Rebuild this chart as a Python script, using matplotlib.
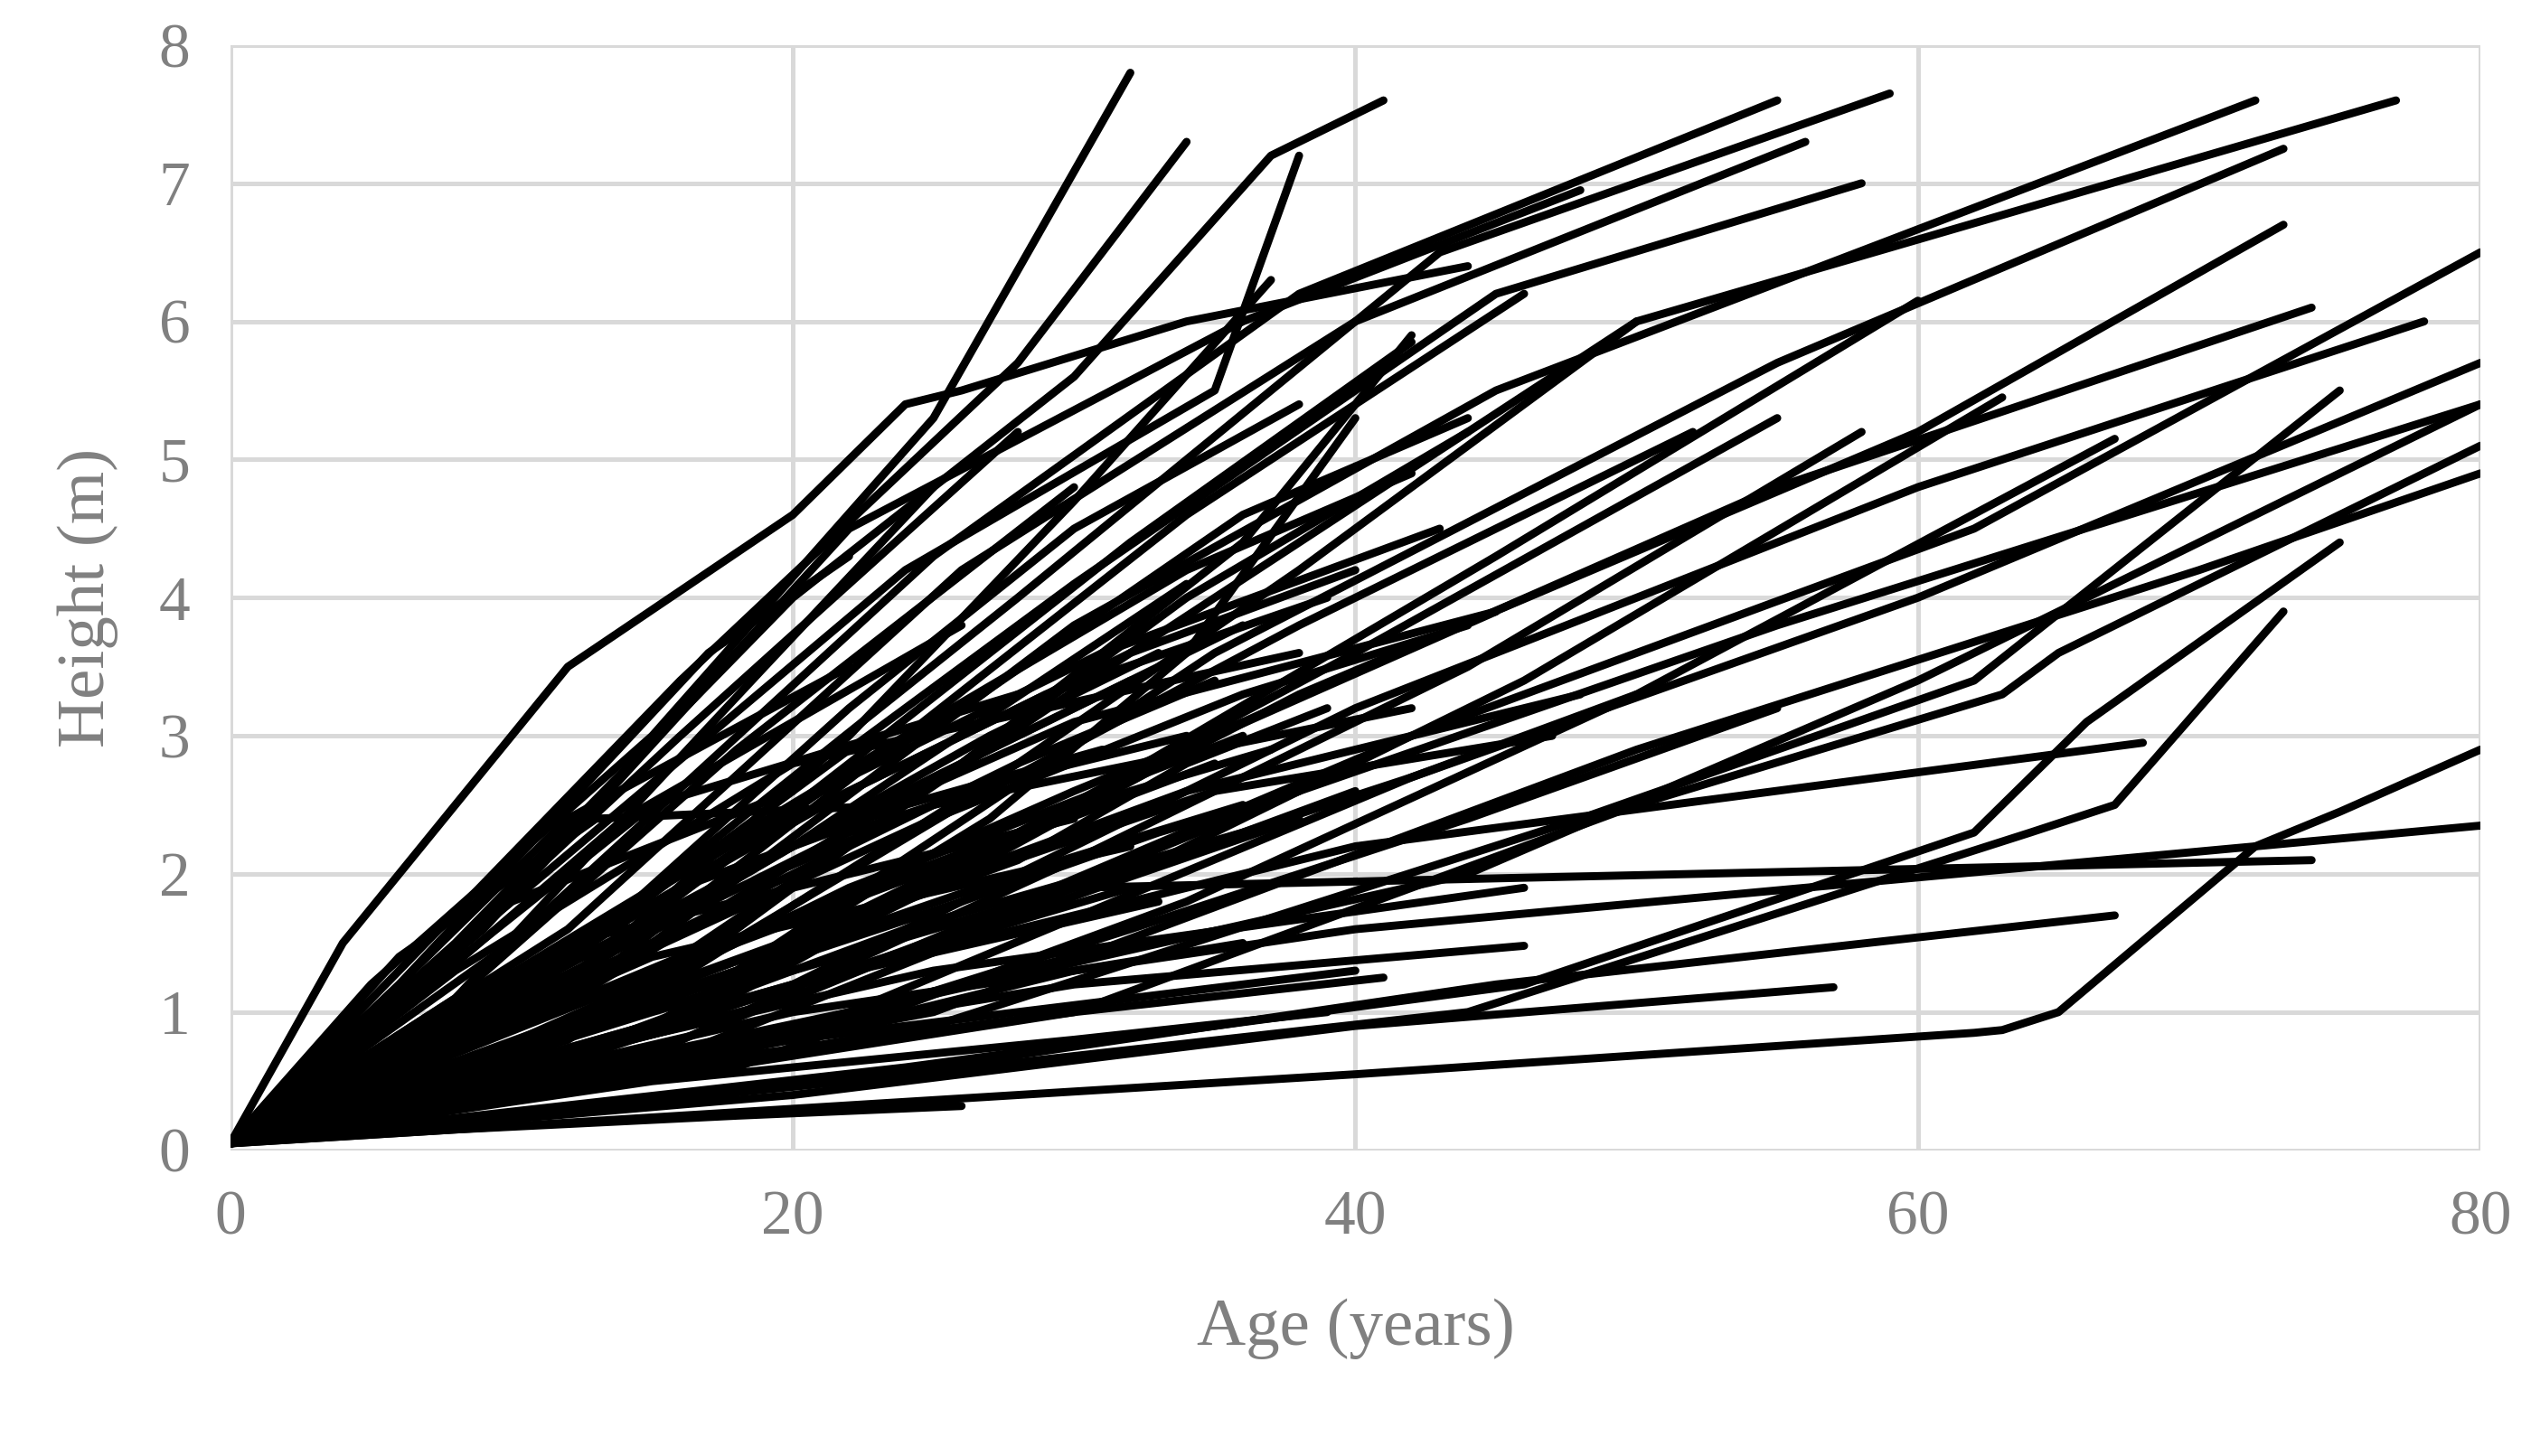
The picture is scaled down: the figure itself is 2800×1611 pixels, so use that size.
import matplotlib.pyplot as plt

# each tree: (ages, heights)
trees = [
    ([0, 4, 12, 20, 24, 26, 34, 44], [0.05, 1.5, 3.5, 4.6, 5.4, 5.5, 6.0, 6.4]),
    ([0, 5, 15, 25, 32], [0.05, 1.2, 3.0, 5.3, 7.8]),
    ([0, 6, 16, 28, 34], [0.05, 1.3, 3.4, 5.7, 7.3]),
    ([0, 8, 20, 30, 37, 40, 41], [0.05, 1.5, 4.0, 5.6, 7.2, 7.5, 7.6]),
    ([0, 10, 24, 35, 38], [0.05, 1.8, 4.2, 5.5, 7.2]),
    ([0, 9, 22, 36, 48], [0.05, 1.6, 4.5, 6.0, 6.95]),
    ([0, 10, 25, 38, 55], [0.05, 1.5, 4.3, 6.2, 7.6]),
    ([0, 12, 28, 43, 59], [0.05, 1.4, 4.0, 6.5, 7.65]),
    ([0, 12, 26, 40, 56], [0.05, 1.6, 4.2, 6.0, 7.3]),
    ([0, 14, 30, 45, 58], [0.05, 1.7, 4.1, 6.2, 7.0]),
    ([0, 15, 30, 45, 72], [0.05, 1.5, 3.8, 5.5, 7.6]),
    ([0, 16, 32, 50, 77], [0.05, 1.4, 3.6, 6.0, 7.6]),
    ([0, 18, 35, 55, 73], [0.05, 1.3, 3.6, 5.7, 7.25]),
    ([0, 18, 38, 60, 73], [0.05, 1.2, 3.3, 5.2, 6.7]),
    ([0, 20, 42, 62, 80], [0.05, 1.1, 3.0, 4.5, 6.5]),
    ([0, 20, 40, 60, 78], [0.05, 1.2, 3.2, 4.8, 6.0]),
    ([0, 18, 36, 55, 74], [0.05, 1.3, 3.1, 4.8, 6.1]),
    ([0, 22, 42, 60, 80], [0.05, 1.0, 2.7, 4.0, 5.7]),
    ([0, 20, 38, 55, 80], [0.05, 1.1, 2.6, 3.8, 5.4]),
    ([0, 25, 50, 70, 80], [0.05, 1.0, 2.9, 4.2, 4.9]),
    ([0, 25, 48, 62, 75], [0.05, 0.9, 2.4, 3.4, 5.5]),
    ([0, 30, 50, 63, 65, 80], [0.05, 1.0, 2.5, 3.3, 3.6, 5.1]),
    ([0, 40, 62, 63, 65, 72, 75, 80], [0.05, 0.55, 0.85, 0.87, 1.0, 2.2, 2.45, 2.9]),
    ([0, 20, 40, 80], [0.05, 1.0, 1.6, 2.35]),
    ([0, 20, 40, 57], [0.05, 0.4, 0.9, 1.18]),
    ([0, 25, 45, 67], [0.05, 0.6, 1.2, 1.7]),
    ([0, 15, 30, 46], [0.05, 0.7, 1.2, 1.48]),
    ([0, 15, 30, 74], [0.05, 1.0, 1.9, 2.1]),
    ([0, 20, 40, 68], [0.05, 1.2, 2.2, 2.95]),
    ([0, 22, 44, 64, 67, 73], [0.05, 0.5, 1.0, 2.3, 2.5, 3.9]),
    ([0, 24, 46, 62, 66, 75], [0.05, 0.6, 1.2, 2.3, 3.1, 4.4]),
    ([0, 20, 44, 60, 80], [0.05, 0.9, 2.0, 3.4, 5.4]),
    ([0, 8, 18, 26], [0.05, 0.15, 0.25, 0.32]),
    ([0, 15, 30, 39], [0.05, 0.5, 0.8, 1.0]),
    ([0, 15, 30, 41], [0.05, 0.6, 1.0, 1.25]),
    ([0, 12, 25, 46], [0.05, 0.7, 1.3, 1.9]),
    ([0, 10, 25, 42], [0.05, 1.2, 2.5, 3.2]),
    ([0, 8, 20, 38], [0.05, 1.3, 2.8, 3.6]),
    ([0, 6, 14, 26], [0.05, 1.0, 2.4, 3.8]),
    ([0, 5, 12, 22], [0.05, 1.0, 2.4, 3.5]),
    ([0, 7, 15, 28], [0.05, 1.2, 2.5, 3.3]),
    ([0, 6, 13, 24], [0.05, 1.4, 2.4, 2.5]),
    ([0, 4, 10, 20], [0.05, 0.8, 1.8, 2.6]),
    ([0, 5, 12, 30], [0.05, 0.7, 1.5, 2.4]),
    ([0, 6, 15, 32], [0.05, 0.6, 1.4, 2.2]),
    ([0, 8, 18, 35], [0.05, 0.6, 1.5, 2.8]),
    ([0, 10, 20, 33], [0.05, 0.5, 1.2, 1.8]),
    ([0, 10, 22, 36], [0.05, 0.7, 1.9, 3.0]),
    ([0, 9, 20, 34], [0.05, 0.9, 2.2, 4.1]),
    ([0, 8, 18, 30], [0.05, 1.1, 2.9, 4.8]),
    ([0, 7, 16, 28], [0.05, 1.3, 3.0, 5.2]),
    ([0, 6, 17, 22], [0.05, 1.2, 3.6, 4.3]),
    ([0, 8, 19, 25], [0.05, 1.1, 3.5, 4.8]),
    ([0, 10, 22, 30, 38], [0.05, 1.0, 3.2, 4.5, 5.4]),
    ([0, 10, 22, 32, 42], [0.05, 0.9, 2.8, 4.4, 5.85]),
    ([0, 12, 24, 34, 44], [0.05, 0.8, 2.5, 4.0, 5.2]),
    ([0, 12, 26, 38, 52], [0.05, 0.8, 2.5, 3.8, 5.2]),
    ([0, 14, 28, 40, 55], [0.05, 0.8, 2.3, 3.6, 5.3]),
    ([0, 15, 30, 44, 58], [0.05, 0.7, 2.1, 3.5, 5.2]),
    ([0, 16, 32, 46, 63], [0.05, 0.7, 2.0, 3.4, 5.45]),
    ([0, 18, 34, 50, 67], [0.05, 0.6, 1.8, 3.3, 5.15]),
    ([0, 16, 30, 45, 60], [0.05, 0.9, 2.5, 4.3, 6.15]),
    ([0, 14, 28, 38, 50], [0.05, 1.0, 2.8, 4.2, 6.0]),
    ([0, 12, 24, 34, 46], [0.05, 1.1, 3.0, 4.6, 6.2]),
    ([0, 14, 26, 36, 42], [0.05, 1.0, 2.8, 4.4, 5.9]),
    ([0, 12, 22, 30, 37], [0.05, 1.2, 3.0, 4.7, 6.3]),
    ([0, 15, 27, 34, 40], [0.05, 0.9, 2.4, 3.6, 5.3]),
    ([0, 14, 26, 35, 45], [0.05, 0.8, 2.0, 3.0, 3.9]),
    ([0, 16, 30, 42, 50], [0.05, 0.8, 1.9, 2.7, 3.3]),
    ([0, 18, 32, 44, 55], [0.05, 0.7, 1.6, 2.4, 3.2]),
    ([0, 12, 24, 36, 40], [0.05, 0.7, 1.6, 2.3, 2.6]),
    ([0, 10, 22, 32], [0.05, 0.6, 1.3, 1.9]),
    ([0, 14, 28, 38], [0.05, 0.8, 1.7, 2.4]),
    ([0, 12, 26, 34, 48], [0.05, 0.9, 2.0, 2.6, 3.3]),
    ([0, 10, 20, 30, 45], [0.05, 1.0, 2.2, 3.1, 3.9]),
    ([0, 11, 21, 31, 43], [0.05, 1.1, 2.6, 3.6, 4.5]),
    ([0, 9, 19, 29, 39], [0.05, 1.0, 2.3, 3.3, 4.0]),
    ([0, 13, 25, 33, 36], [0.05, 1.2, 2.7, 3.5, 3.8]),
    ([0, 20, 30, 38], [0.05, 0.9, 1.4, 1.7]),
    ([0, 18, 28, 36], [0.05, 1.3, 2.0, 2.5]),
    ([0, 16, 28, 35], [0.05, 1.6, 2.8, 3.4]),
    ([0, 20, 30, 36], [0.05, 1.7, 2.6, 3.1]),
    ([0, 22, 30, 35], [0.05, 1.3, 1.9, 2.2]),
    ([0, 24, 30, 36], [0.05, 1.0, 1.3, 1.5]),
    ([0, 20, 32, 40], [0.05, 0.8, 1.1, 1.3]),
    ([0, 25, 35, 47], [0.05, 1.9, 2.6, 3.0]),
    ([0, 25, 36, 44], [0.05, 2.4, 3.3, 3.8]),
    ([0, 22, 32, 40], [0.05, 2.6, 3.6, 4.2]),
    ([0, 24, 34, 42], [0.05, 3.0, 4.2, 4.9]),
    ([0, 26, 36, 44], [0.05, 3.2, 4.6, 5.3]),
    ([0, 18, 26, 32], [0.05, 2.0, 2.8, 3.4]),
    ([0, 20, 27, 33], [0.05, 2.2, 3.0, 3.6]),
    ([0, 16, 24, 31], [0.05, 1.9, 2.5, 2.9]),
    ([0, 22, 28, 34], [0.05, 2.3, 2.7, 3.0]),
    ([0, 24, 32, 37], [0.05, 2.0, 2.6, 2.9]),
    ([0, 26, 33, 38], [0.05, 1.8, 2.3, 2.6]),
    ([0, 28, 34, 39], [0.05, 2.1, 2.8, 3.2]),
]

xticks = [0, 20, 40, 60, 80]
yticks = [0, 1, 2, 3, 4, 5, 6, 7, 8]

plt.rcParams['font.family'] = ['Liberation Serif', 'DejaVu Serif']

fig = plt.figure(figsize=(14, 8.055), dpi=200)
ax = fig.add_axes([0.091, 0.21, 0.889, 0.759])

for ages, heights in trees:
    ax.plot(ages, heights, color='black', lw=3.2, solid_capstyle='round', solid_joinstyle='round')

ax.set_xlim(0, 80)
ax.set_ylim(0, 8)
ax.set_xticks(xticks)
ax.set_yticks(yticks)
ax.grid(True, color='#d9d9d9', lw=1.8)
ax.set_axisbelow(True)
for s in ax.spines.values():
    s.set_visible(False)
ax.tick_params(length=0, labelsize=25, labelcolor='#808080', pad=16)
ax.set_xlabel('Age (years)', fontsize=27, color='#808080', labelpad=20)
ax.set_ylabel('Height (m)', fontsize=27, color='#808080', labelpad=16)

fig.savefig('out.png')
